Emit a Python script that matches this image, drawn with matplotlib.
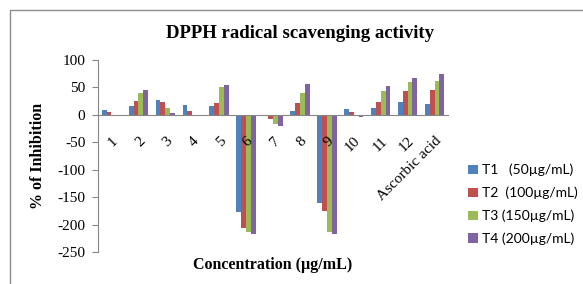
import matplotlib.pyplot as plt
import numpy as np
from matplotlib.patches import Rectangle

categories = ["1", "2", "3", "4", "5", "6", "7", "8", "9", "10", "11", "12", "Ascorbic acid"]
t1 = [9, 16, 27, 18, 17, -177, -1, 7, -161, 10, 13, 24, 19]
t2 = [5, 25, 23, 7, 22, -206, -8, 21, -175, 6, 24, 44, 45]
t3 = [-1, 40, 13, 0, 50, -214, -16, 39, -213, -1, 44, 59, 61]
t4 = [-2, 45, 4, -1, 55, -218, -21, 57, -218, -4, 52, 67, 74]
series = [t1, t2, t3, t4]
labels = ["T1   (50µg/mL)", "T2  (100µg/mL)", "T3 (150µg/mL)", "T4 (200µg/mL)"]
colors = ["#4F81BD", "#C0504D", "#9BBB59", "#8064A2"]

serif = "Liberation Serif"
plt.rcParams["axes.unicode_minus"] = False

fig = plt.figure(figsize=(5.83, 2.84), dpi=100)
fig.patches.append(Rectangle((10 / 583, -0.1), 1.2, 1 - 10 / 284 + 0.1,
                             transform=fig.transFigure, fill=False,
                             edgecolor="#8c8c8c", linewidth=1.0))
ax = fig.add_axes([98 / 583, 1 - 252 / 284, 350 / 583, 192 / 284])

x = np.arange(len(categories))
w = 0.18
for i, (vals, lab, col) in enumerate(zip(series, labels, colors)):
    ax.bar(x + (i - 1.5) * w, vals, width=w, color=col, label=lab)

ax.set_xlim(-0.5, len(categories) - 0.5)
ax.set_ylim(-250, 100)
ax.set_yticks(np.arange(-250, 101, 50))
for lbl in ax.get_yticklabels():
    lbl.set_fontfamily(serif)
    lbl.set_fontsize(11)
ax.tick_params(axis="y", length=4, color="#868686", pad=5)

ax.spines["top"].set_visible(False)
ax.spines["right"].set_visible(False)
ax.spines["left"].set_color("#868686")
ax.spines["bottom"].set_position(("data", 0))
ax.spines["bottom"].set_color("#868686")

ax.set_xticks(x)
ax.set_xticklabels(categories, rotation=45, ha="right", rotation_mode="anchor",
                   fontfamily=serif, fontsize=11)
ax.tick_params(axis="x", length=0, pad=14)

fig.text(0.515, 0.882, "DPPH radical scavenging activity", ha="center", va="center",
         fontfamily=serif, fontweight="bold", fontsize=13.5)
fig.text(0.065, 0.45, "% of Inhibition", ha="center", va="center", rotation=90,
         fontfamily=serif, fontweight="bold", fontsize=11.5)
fig.text(0.468, 0.067, "Concentration (µg/mL)", ha="center", va="center",
         fontfamily=serif, fontweight="bold", fontsize=11.5)

fig.legend(loc="center left", bbox_to_anchor=(468 / 583, 0.28), frameon=False,
           prop={"family": "Lato", "size": 10}, handlelength=0.7,
           handleheight=0.7, handletextpad=0.3, labelspacing=0.75,
           borderpad=0, borderaxespad=0)

fig.savefig("out.png", dpi=100)
